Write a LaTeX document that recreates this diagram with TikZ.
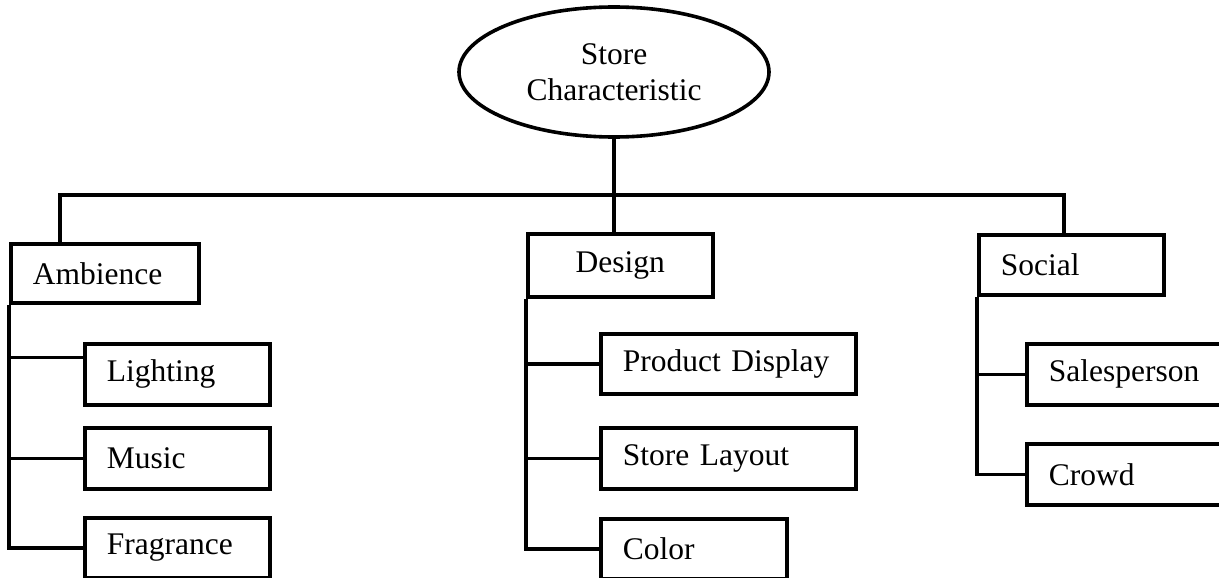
\documentclass[tikz,border=0pt]{standalone}
\usepackage{fontspec}
\setmainfont{Liberation Serif}
\usetikzlibrary{shapes.geometric}
\begin{document}
\begin{tikzpicture}[x=1pt,y=-1pt,
  every node/.style={font=\fontsize{31.5}{36}\selectfont},
  line/.style={line width=3.6pt},
  box/.style={draw,line width=3.6pt,rectangle,anchor=north west,inner xsep=22pt,inner ysep=0pt,align=left},
  cbox/.style={draw,line width=3.6pt,rectangle,anchor=north west,inner sep=0pt,align=center},
  oval/.style={draw,line width=3.6pt,ellipse,inner sep=0pt,minimum width=310pt,minimum height=130pt,align=center}
]
\useasboundingbox (0,0) rectangle (1219,578);
\clip (0,0) rectangle (1219,578);
\node[oval] (ell) at (614,72) {Store\\Characteristic};
\node[box,text width=144pt,minimum height=59pt] (amb) at (9,242) {Ambience};
\node[box,text width=141pt,minimum height=61pt] (lig) at (83,342) {Lighting};
\node[box,text width=141pt,minimum height=61pt] (mus) at (83,426) {Music};
\node[box,text width=141pt,minimum height=60pt] (fra) at (83,516) {Fragrance};
\node[cbox,text width=185pt,minimum height=63pt] (des) at (526,232) {Design};
\node[box,text width=211pt,minimum height=60pt] (pro) at (599,332) {Product Display};
\node[box,text width=211pt,minimum height=61pt] (lay) at (599,426) {Store Layout};
\node[box,text width=142pt,minimum height=60pt] (col) at (599,517) {Color};
\node[box,text width=141pt,minimum height=60pt] (soc) at (977,233) {Social};
\node[box,text width=160pt,minimum height=61pt] (sal) at (1025,342) {Salesperson};
\node[box,text width=160pt,minimum height=61pt] (cro) at (1025,442) {Crowd};
\coordinate (busL) at (60,195);
\coordinate (busR) at (1064,195);
\coordinate (ligc) at ([yshift=17pt]lig.west);
\draw[line] (ell.south) -- (ell.south |- des.north);
\draw[line] (amb.north -| busL) -- (busL) -- (busR) -- (busR |- soc.north);
% Ambience branch
\draw[line] (amb.south west) -- (amb.south west |- fra.west) -- (fra.west);
\draw[line] (amb.south west |- ligc) -- (ligc);
\draw[line] (amb.south west |- mus.west) -- (mus.west);
% Design branch
\draw[line] (des.south west) -- (des.south west |- col.west) -- (col.west);
\draw[line] (des.south west |- pro.west) -- (pro.west);
\draw[line] (des.south west |- lay.west) -- (lay.west);
% Social branch
\draw[line] (soc.south west) -- (soc.south west |- cro.west) -- (cro.west);
\draw[line] (soc.south west |- sal.west) -- (sal.west);
\end{tikzpicture}
\end{document}
